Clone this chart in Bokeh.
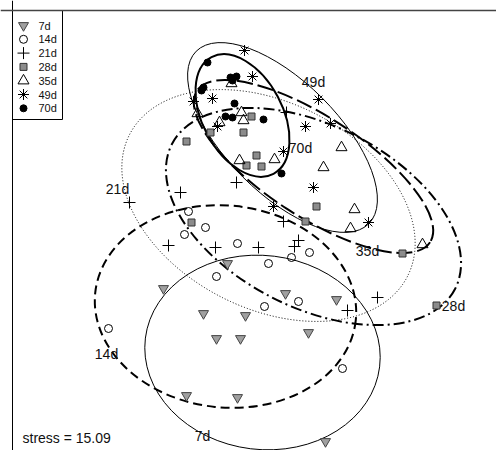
import numpy as np
from bokeh.plotting import figure
from bokeh.models import Range1d, Span
from bokeh.core.properties import value
from bokeh.embed import file_html
from bokeh.resources import INLINE

# ---------------- data (NMDS scores) ----------------
groups = ["7d", "14d", "21d", "28d", "35d", "49d", "70d"]

x_7d = [-0.47, -0.05, -0.34, -0.10, -0.64, -0.13, 0.75, 0.58, 0.86, 0.35, -0.23, -0.87]
y_7d = [-0.88, -0.90, -1.13, -1.13, -1.70, -1.72, -2.16, -1.07, -0.74, -0.68, -0.38, -0.63]

x_14d = [-0.62, -0.45, -0.66, -0.13, 0.18, -0.34, 0.59, 0.41, 0.48, 0.14, 0.92, -1.42]
y_14d = [0.14, -0.02, -0.09, -0.18, -0.38, -0.51, -0.27, -0.32, -0.76, -0.81, -1.43, -1.03]

x_21d = [-0.70, -0.14, -1.21, -0.82, -0.35, 0.08, 0.33, 0.48, 0.44, 1.27, 0.97, 0.36]
y_21d = [0.33, 0.43, 0.23, -0.20, -0.22, -0.22, 0.04, -0.15, -0.21, -0.72, -0.85, 1.13]

x_28d = [0.01, -0.07, -0.40, -0.64, 0.06, -0.04, 0.11, -0.59, 0.66, 0.55, 1.52, 1.86]
y_28d = [1.09, 0.93, 0.93, 0.84, 0.70, 0.60, 0.59, 0.03, 0.19, 0.04, -0.28, -0.80]

x_35d = [-0.19, -0.09, -0.07, -0.31, -0.53, 0.91, 0.24, -0.11, 0.73, 1.04, 1.00, 1.72]
y_35d = [1.42, 1.13, 1.05, 1.03, 1.12, 0.78, 0.66, 0.65, 0.58, 0.16, -0.03, -0.19]

x_49d = [-0.06, 0.02, -0.38, -0.57, 0.68, 0.80, 0.55, -0.33, 0.33, 0.63, 0.23, 1.18]
y_49d = [1.75, 1.49, 1.27, 1.24, 1.26, 1.02, 0.99, 0.99, 0.74, 0.38, 0.19, 0.03]

x_70d = [-0.43, -0.20, -0.14, -0.18, -0.47, -0.49, -0.16, -0.25, -0.18, 0.13, 0.31]
y_70d = [1.63, 1.48, 1.49, 1.45, 1.38, 1.35, 1.22, 1.09, 1.08, 1.06, 0.52]

# group ellipses: centre, full width, full height, rotation (degrees)
ell_cx = [0.12, -0.25, 0.18, 0.63, 0.63, 0.32, -0.08]
ell_cy = [-1.27, -0.81, 0.20, 0.09, 0.59, 0.88, 1.10]
ell_w = [2.36, 2.62, 3.12, 3.18, 2.78, 2.44, 1.32]
ell_h = [1.94, 2.02, 2.06, 1.82, 1.00, 1.12, 0.80]
ell_angle = [-7, -6, -27, -27, -33, -45, -62]

# group labels
label_x = [-0.48, -1.44, -1.33, 2.03, 1.17, 0.63, 0.50]
label_y = [-2.10, -1.28, 0.37, -0.80, -0.25, 1.44, 0.78]

stress_text = "stress = 15.09"
stress_x = -2.28
stress_y = -2.12

# ---------------- figure ----------------
W, H = 496, 450
X0, X1 = -2.50, 2.46
Y0, Y1 = -2.25, 2.25

p = figure(width=W, height=H,
           x_range=Range1d(X0, X1), y_range=Range1d(Y0, Y1),
           output_backend="svg", toolbar_location=None,
           x_axis_location=None, y_axis_location=None,
           min_border=0, outline_line_color=None)
p.grid.visible = False
p.background_fill_color = "white"

FONT = "Liberation Sans"


def px_x(px):
    return X0 + (X1 - X0) * px / W


def px_y(py):
    return Y1 - (Y1 - Y0) * py / H


xs = [x_7d, x_14d, x_21d, x_28d, x_35d, x_49d, x_70d]
ys = [y_7d, y_14d, y_21d, y_28d, y_35d, y_49d, y_70d]

ell_style = [
    dict(line_width=1, line_dash="solid"),
    dict(line_width=2, line_dash="9 5"),
    dict(line_width=1, line_dash="1 2"),
    dict(line_width=2, line_dash="11 4 2 4"),
    dict(line_width=2, line_dash="16 5"),
    dict(line_width=1, line_dash="solid"),
    dict(line_width=2, line_dash="solid"),
]

for i in range(len(groups)):
    p.ellipse(x=[ell_cx[i]], y=[ell_cy[i]], width=[ell_w[i]], height=[ell_h[i]],
              angle=[np.deg2rad(ell_angle[i])], fill_color=None,
              line_color="black", **ell_style[i])

marker_style = [
    dict(marker="inverted_triangle", size=10, fill_color="#a0a0a0", line_color="#444444", line_width=1),
    dict(marker="circle", size=8, fill_color=None, line_color="black", line_width=1),
    dict(marker="cross", size=12, fill_color=None, line_color="black", line_width=1),
    dict(marker="square", size=7, fill_color="#8c8c8c", line_color="#333333", line_width=1),
    dict(marker="triangle", size=11, fill_color=None, line_color="black", line_width=1),
    dict(marker="asterisk", size=11, fill_color=None, line_color="black", line_width=1),
    dict(marker="circle", size=7, fill_color="black", line_color="black", line_width=1),
]

for i in range(len(groups)):
    p.scatter(x=xs[i], y=ys[i], **marker_style[i])

p.text(x=label_x, y=label_y, text=groups, text_font=value(FONT),
       text_font_size="14px", text_align="center", text_baseline="middle",
       text_color="#111111")

p.text(x=[stress_x], y=[stress_y], text=[stress_text], text_font=value(FONT),
       text_font_size="14px", text_align="left", text_baseline="middle",
       text_color="#111111")

# frame lines (left and top of the plot box)
p.add_layout(Span(location=px_x(12), dimension="height", line_color="black", line_width=1))
p.add_layout(Span(location=px_y(10), dimension="width", line_color="#444444", line_width=1.5))

# legend box drawn in the plot's top-left corner
leg_left, leg_right, leg_top, leg_bottom = 12, 62, 10, 119
leg_marker_x, leg_text_x, leg_row0, leg_pitch = 23, 38, 25, 13.8

p.quad(left=[px_x(leg_left)], right=[px_x(leg_right)],
       top=[px_y(leg_top)], bottom=[px_y(leg_bottom)],
       fill_color="white", line_color="black", line_width=1)
for i in range(len(groups)):
    yy = px_y(leg_row0 + leg_pitch * i)
    p.scatter(x=[px_x(leg_marker_x)], y=[yy], **marker_style[i])
p.text(x=[px_x(leg_text_x)] * len(groups),
       y=[px_y(leg_row0 + leg_pitch * i) for i in range(len(groups))],
       text=groups, text_font=value(FONT), text_font_size="11px",
       text_align="left", text_baseline="middle", text_color="#111111")

open("out.html", "w").write(file_html(p, INLINE))
